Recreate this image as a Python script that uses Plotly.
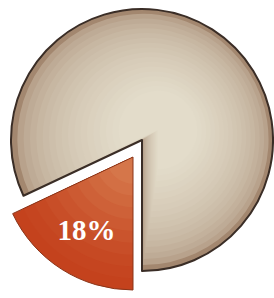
import plotly.graph_objects as go

# Data
labels = ["Share", "Rest"]
values = [18, 82]
slice_text = [f"<b>{values[0]}%</b>", ""]

W, H = 274, 298
CLEAR = "rgba(0,0,0,0)"

def domain(cx, cy, r):
    return dict(x=[(cx - r) / W, (cx + r) / W],
                y=[(H - (cy + r)) / H, (H - (cy - r)) / H])

def mix(c0, c1, t):
    a = [int(c0[i:i + 2], 16) for i in (1, 3, 5)]
    b = [int(c1[i:i + 2], 16) for i in (1, 3, 5)]
    return "#" + "".join(f"{round(x + (y - x) * t):02x}" for x, y in zip(a, b))

fig = go.Figure()

def add_pie(cols, cx, cy, r, line_cols=(CLEAR, CLEAR), line_w=(0, 0), **kw):
    fig.add_trace(go.Pie(
        labels=labels, values=values, sort=False, direction="clockwise", rotation=180,
        marker=dict(colors=list(cols), line=dict(color=list(line_cols), width=list(line_w))),
        hoverinfo="skip", showlegend=False, domain=domain(cx, cy, r), **kw))

# Large slice with soft shading layers
n = 18
for k in range(n):
    t = k / (n - 1)
    r = 131 * (1 - 0.7 * t)
    cx = 142 + 16 * t
    cy = 140 - 10 * t
    col = mix("#a3876f", "#e3dcca", t ** 0.4)
    add_pie([CLEAR, col], cx, cy, r, textinfo="none")
# outline of large slice
add_pie([CLEAR, CLEAR], 142, 140, 131, line_cols=(CLEAR, "#3a2d26"), line_w=(0, 2), textinfo="none")

# Exploded small slice with soft shading layers
m = 10
for k in range(m):
    t = k / (m - 1)
    col = mix("#c4421d", "#d5764a", t ** 1.3)
    add_pie([col, CLEAR], 133, 157, 133 * (1 - 0.8 * t), textinfo="none")
# label and outline of small slice
add_pie([CLEAR, CLEAR], 133, 157, 133, line_cols=("#8a3519", CLEAR), line_w=(1, 0),
        text=slice_text, texttemplate="%{text}", textposition="inside",
        insidetextorientation="horizontal",
        textfont=dict(family="Liberation Serif", size=29, color="white"))

fig.update_layout(width=W, height=H, margin=dict(l=0, r=0, t=0, b=0),
                  paper_bgcolor="white", plot_bgcolor="white")
fig.write_html("out.html", config={"displayModeBar": False},
               post_script="document.body.style.margin='0';document.body.style.overflow='hidden';")
